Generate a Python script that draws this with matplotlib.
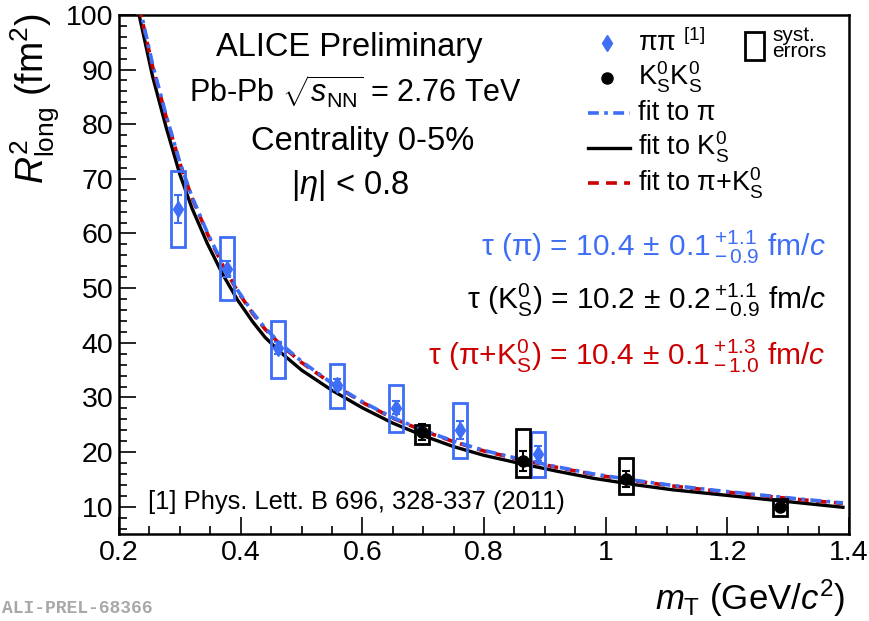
import matplotlib
matplotlib.use('Agg')
import matplotlib.pyplot as plt
from matplotlib.patches import Rectangle
import numpy as np

plt.rcParams['font.family'] = ['Liberation Sans', 'DejaVu Sans']
plt.rcParams['mathtext.fontset'] = 'custom'
plt.rcParams['mathtext.rm'] = 'Liberation Sans'
plt.rcParams['mathtext.it'] = 'Liberation Sans:italic'
plt.rcParams['mathtext.bf'] = 'Liberation Sans:bold'

BLUE = '#3d6ef5'
RED = '#cc0000'

# pion data (Phys. Lett. B 696)
pi_x = np.array([0.297, 0.378, 0.462, 0.559, 0.655, 0.761, 0.889])
pi_y = np.array([64.5, 53.5, 39.0, 32.3, 28.1, 24.0, 19.7])
pi_stat = np.array([2.6, 1.5, 1.1, 1.0, 1.2, 1.6, 1.4])
pi_sys_lo = np.array([57.6, 47.9, 33.6, 28.0, 23.7, 18.9, 15.4])
pi_sys_hi = np.array([71.4, 59.3, 44.0, 36.2, 32.3, 28.9, 23.6])

# K0s K0s data
k_x = np.array([0.698, 0.864, 1.034, 1.286])
k_y = np.array([23.7, 18.4, 15.1, 9.9])
k_stat = np.array([1.5, 1.8, 1.5, 0.5])
k_sys_lo = np.array([21.5, 15.4, 12.3, 8.3])
k_sys_hi = np.array([25.0, 24.2, 19.0, 11.5])

# fit curves
fit_x = np.array([0.233, 0.255, 0.277, 0.30, 0.32, 0.345, 0.37, 0.395, 0.42, 0.44, 0.465,
                  0.50, 0.55, 0.60, 0.65, 0.70, 0.75, 0.80, 0.86, 0.92, 0.98,
                  1.05, 1.11, 1.18, 1.25, 1.32, 1.39])
fit_k = np.array([100, 88.8, 79.6, 70.8, 64.6, 58.2, 52.6, 47.8, 43.8, 41.0, 38.3,
                  35.0, 31.3, 28.1, 25.3, 23.0, 21.0, 19.4, 17.9, 16.5, 15.2,
                  14.0, 13.1, 12.3, 11.5, 10.7, 9.9])
fit_pik = np.array([101.5, 90.6, 81.5, 72.8, 66.5, 60.0, 54.3, 49.4, 45.3, 42.5, 39.7,
                    36.4, 32.5, 29.1, 26.2, 23.9, 21.9, 20.2, 18.6, 17.2, 15.9,
                    14.7, 13.8, 12.9, 12.1, 11.3, 10.6])
fit_pi = np.array([102.0, 91.0, 81.8, 73.0, 66.7, 60.2, 54.5, 49.6, 45.5, 42.7, 39.9,
                   36.6, 32.6, 29.2, 26.3, 24.0, 22.0, 20.3, 18.7, 17.3, 16.0,
                   14.8, 13.9, 13.0, 12.2, 11.4, 10.7])

fig = plt.figure(figsize=(8.69, 6.21), dpi=100)
ax = fig.add_axes([0.137, 0.140, 0.840, 0.836])

ax.plot(fit_x, fit_k, '-', color='black', lw=2.4, zorder=3)
ax.plot(fit_x, fit_pik, '--', color=RED, lw=2.6, dashes=(3, 2), zorder=4)
ax.plot(fit_x, fit_pi, '-.', color=BLUE, lw=2.6, dashes=(3, 1.5, 1, 1.5), zorder=5)

bw = 0.0115
for x, lo, hi in zip(pi_x, pi_sys_lo, pi_sys_hi):
    ax.add_patch(Rectangle((x - bw, lo), 2 * bw, hi - lo, fill=False,
                           edgecolor=BLUE, lw=2, zorder=6))
for x, lo, hi in zip(k_x, k_sys_lo, k_sys_hi):
    ax.add_patch(Rectangle((x - bw, lo), 2 * bw, hi - lo, fill=False,
                           edgecolor='black', lw=2, zorder=6))

ax.errorbar(pi_x, pi_y, yerr=pi_stat, fmt='d', color=BLUE, ms=8, capsize=3,
            elinewidth=1.5, capthick=1.5, zorder=7)
ax.errorbar(k_x, k_y, yerr=k_stat, fmt='o', color='black', ms=8, capsize=3,
            elinewidth=1.5, capthick=1.5, zorder=7)

ax.set_xlim(0.2, 1.4)
ax.set_ylim(5, 100)
ax.set_xticks([0.2, 0.4, 0.6, 0.8, 1.0, 1.2, 1.4])
ax.set_xticklabels(['0.2', '0.4', '0.6', '0.8', '1', '1.2', '1.4'])
ax.set_xticks(np.arange(0.2, 1.401, 0.05), minor=True)
ax.set_yticks(np.arange(10, 101, 10))
ax.set_yticks(np.arange(6, 101, 2), minor=True)
ax.tick_params(which='both', direction='in', labelsize=20.5, width=1.2)
ax.tick_params(which='major', length=12)
ax.tick_params(axis='x', which='major', pad=4)
ax.tick_params(axis='y', which='major', pad=4)
ax.tick_params(which='minor', length=6)
for s in ax.spines.values():
    s.set_linewidth(1.8)

fig.text(0.972, 0.037, r'$m_{\mathrm{T}}$ (GeV/$c^2$)', ha='right', va='center', fontsize=25)
fig.text(0.040, 0.978, r'$R^2_{\mathrm{long}}$ (fm$^2$)', ha='center', va='top',
         rotation=90, fontsize=27)

tr = ax.transAxes
ax.text(0.316, 0.938, 'ALICE Preliminary', transform=tr, ha='center', va='center', fontsize=23.5)
ax.text(0.324, 0.852, r'Pb-Pb $\sqrt{s_{\mathrm{NN}}}$ = 2.76 TeV', transform=tr,
        ha='center', va='center', fontsize=22)
ax.text(0.333, 0.757, 'Centrality 0-5%', transform=tr, ha='center', va='center', fontsize=23.5)
ax.text(0.316, 0.672, r'$|\eta|$ < 0.8', transform=tr, ha='center', va='center', fontsize=23.5)

# legend
rows = [0.946, 0.879, 0.811, 0.744, 0.676]
ax.plot([0.668], [rows[0]], 'd', color=BLUE, ms=8, transform=tr, clip_on=False)
ax.plot([0.668], [rows[1]], 'o', color='black', ms=8, transform=tr, clip_on=False)
ax.plot([0.642, 0.700], [rows[2]] * 2, color=BLUE, lw=2.6, dashes=(3, 1.5, 1, 1.5), transform=tr)
ax.plot([0.642, 0.700], [rows[3]] * 2, color='black', lw=2.4, transform=tr)
ax.plot([0.642, 0.700], [rows[4]] * 2, color=RED, lw=2.6, dashes=(3, 2), transform=tr)
leg_labels = [r'ππ $^{[1]}$', r'K$^0_{\mathrm{S}}$K$^0_{\mathrm{S}}$', 'fit to π',
              r'fit to K$^0_{\mathrm{S}}$', r'fit to π+K$^0_{\mathrm{S}}$']
for yy, lab in zip(rows, leg_labels):
    ax.text(0.711, yy, lab, transform=tr, ha='left', va='center', fontsize=19.5)
ax.add_patch(Rectangle((0.858, 0.914), 0.025, 0.054, fill=False, edgecolor='black',
                       lw=2, transform=tr))
ax.text(0.895, 0.945, 'syst.\nerrors', transform=tr, ha='left', va='center',
        fontsize=15, linespacing=0.85)

# lifetimes
ax.text(0.968, 0.553, r'τ (π) = 10.4$\,\pm\,$0.1$\,{}^{+1.1}_{-\,0.9}$ fm/$c$',
        transform=tr, ha='right', va='center', fontsize=21.5, color=BLUE)
ax.text(0.968, 0.451, r'τ (K$^0_{\mathrm{S}}$) = 10.2$\,\pm\,$0.2$\,{}^{+1.1}_{-\,0.9}$ fm/$c$',
        transform=tr, ha='right', va='center', fontsize=21.5, color='black')
ax.text(0.968, 0.343, r'τ (π+K$^0_{\mathrm{S}}$) = 10.4$\,\pm\,$0.1$\,{}^{+1.3}_{-\,1.0}$ fm/$c$',
        transform=tr, ha='right', va='center', fontsize=21.5, color=RED)

ax.text(0.040, 0.062, '[1] Phys. Lett. B 696, 328-337 (2011)', transform=tr,
        ha='left', va='center', fontsize=18.4)

fig.text(0.002, 0.006, 'ALI-PREL-68366', ha='left', va='bottom', fontsize=13,
         family='Liberation Mono', weight='bold', color='#a8a8a8')

plt.savefig('out.png', dpi=100)
